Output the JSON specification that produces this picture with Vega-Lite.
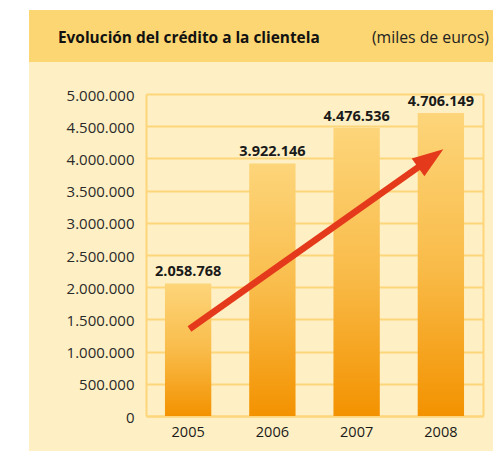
{
  "$schema": "https://vega.github.io/schema/vega-lite/v6.json",
  "padding": {"left": 29, "top": 10, "right": 0, "bottom": 0},
  "background": "white",
  "spacing": 0,
  "config": {
    "locale": {"number": {"decimal": ",", "thousands": ".", "grouping": [3], "currency": ["", " €"]}},
    "font": "Open Sans",
    "view": {"stroke": null}
  },
  "vconcat": [
    {
      "width": 464,
      "height": 52,
      "view": {"fill": "#FBD672", "stroke": null},
      "data": {"values": [{"t": "Evolución del crédito a la clientela", "k": "title"}, {"t": "(miles de euros)", "k": "unit"}]},
      "layer": [
        {
          "transform": [{"filter": "datum.k === 'title'"}],
          "mark": {"type": "text", "align": "left", "baseline": "alphabetic", "dx": -203, "dy": 7, "font": "Open Sans", "fontSize": 15.4, "fontWeight": "bold", "color": "#111111"},
          "encoding": {"text": {"field": "t", "type": "nominal"}}
        },
        {
          "transform": [{"filter": "datum.k === 'unit'"}],
          "mark": {"type": "text", "align": "right", "baseline": "alphabetic", "dx": 228, "dy": 7, "font": "Open Sans", "fontSize": 15.8, "color": "#222222"},
          "encoding": {"text": {"field": "t", "type": "nominal"}}
        }
      ]
    },
    {
      "width": 464,
      "height": 389,
      "view": {"fill": "#FEF0C4", "stroke": null},
      "data": {"values": [
        {"year": "2005", "value": 2058768},
        {"year": "2006", "value": 3922146},
        {"year": "2007", "value": 4476536},
        {"year": "2008", "value": 4706149}
      ]},
      "layer": [
        {
          "mark": {"type": "bar", "color": {"gradient": "linear", "x1": 0, "y1": 0, "x2": 0, "y2": 1, "stops": [{"offset": 0, "color": "#FDD57A"}, {"offset": 0.5, "color": "#F9BC4A"}, {"offset": 1, "color": "#F39200"}]}},
          "encoding": {
            "x": {"field": "year", "type": "ordinal", "scale": {"range": [117, 454], "paddingInner": 0.45, "paddingOuter": 0.225},
              "axis": {"orient": "bottom", "offset": -35, "title": null, "labelAngle": 0, "labelFont": "Open Sans", "labelFontSize": 14.5, "labelColor": "#1A1A1A", "labelPadding": 9, "ticks": false, "tickSize": 0, "domainColor": "#FDD57B", "domainWidth": 2, "grid": false}},
            "y": {"field": "value", "type": "quantitative", "scale": {"domain": [0, 5000000], "range": [354, 32], "nice": false, "zero": true},
              "axis": {"orient": "left", "offset": -117, "title": null, "values": [0, 500000, 1000000, 1500000, 2000000, 2500000, 3000000, 3500000, 4000000, 4500000, 5000000], "format": ",d", "labelFont": "Open Sans", "labelFontSize": 15, "labelColor": "#2A2A2A", "labelPadding": 12, "labelOffset": 1, "ticks": false, "tickSize": 0, "domainColor": "#FDD57B", "domainWidth": 2, "grid": true, "gridColor": "#FDD57B", "gridWidth": 2, "gridOpacity": 1}}
          }
        },
        {
          "mark": {"type": "text", "align": "center", "baseline": "alphabetic", "dy": -7, "font": "Open Sans", "fontSize": 14.5, "fontWeight": "bold", "color": "#1A1A1A"},
          "encoding": {
            "x": {"field": "year", "type": "ordinal", "scale": {"range": [117, 454], "paddingInner": 0.45, "paddingOuter": 0.225}, "axis": null},
            "y": {"field": "value", "type": "quantitative",
              "axis": {"orient": "right", "offset": -10, "title": null, "labels": false, "ticks": false, "grid": false, "domainColor": "#FDD57B", "domainWidth": 2}},
            "text": {"field": "value", "type": "quantitative", "format": ",d"}
          }
        },
        {
          "data": {"values": [{"pos": 0.516, "value": 1351000}, {"pos": 3.354, "value": 3978000}]},
          "mark": {"type": "line", "color": "#E4391B", "strokeWidth": 6.5, "strokeCap": "butt"},
          "encoding": {
            "x": {"field": "pos", "type": "quantitative", "scale": {"domain": [0, 4], "range": [117, 454], "nice": false, "zero": false}, "axis": null},
            "y": {"field": "value", "type": "quantitative", "axis": null}
          }
        },
        {
          "data": {"values": [{"pos": 3.529, "value": 4141000}]},
          "mark": {"type": "point", "shape": "M0,0L0.53,1.5L-0.53,1.5Z", "size": 1713, "angle": 54.5, "filled": true, "color": "#E4391B", "opacity": 1, "strokeWidth": 0},
          "encoding": {
            "x": {"field": "pos", "type": "quantitative", "scale": {"domain": [0, 4], "range": [117, 454], "nice": false, "zero": false}, "axis": null},
            "y": {"field": "value", "type": "quantitative", "axis": null}
          }
        }
      ],
      "resolve": {"scale": {"x": "independent"}, "axis": {"x": "independent", "y": "independent"}}
    }
  ]
}
